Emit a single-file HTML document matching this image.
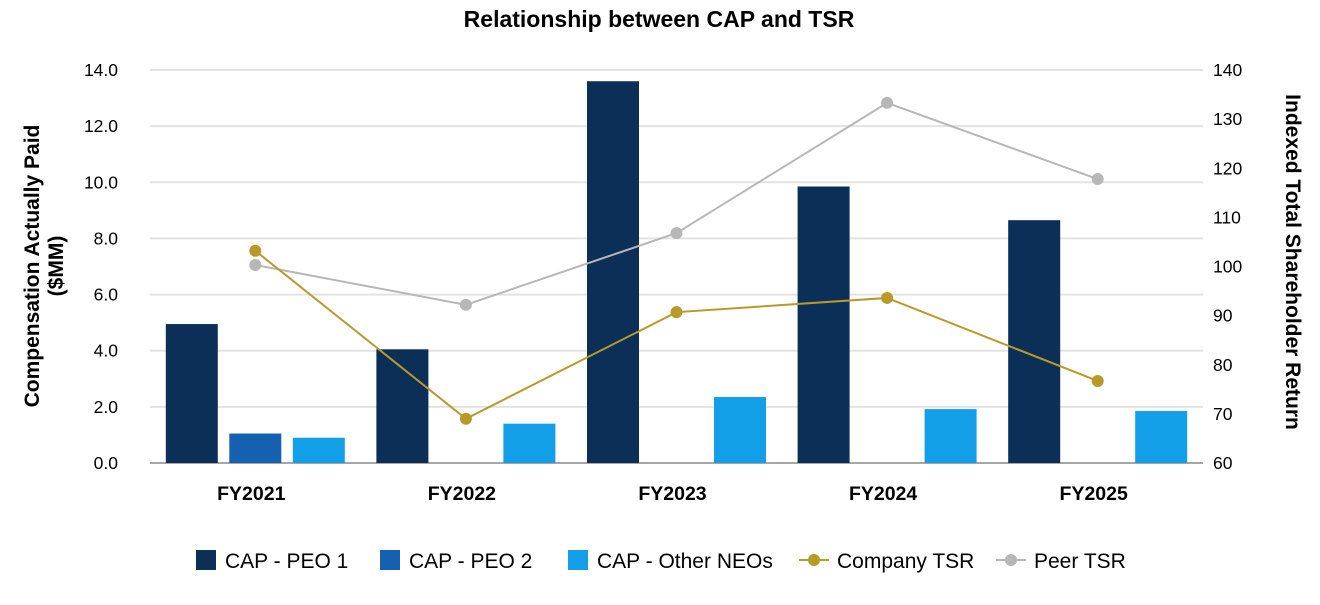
<!DOCTYPE html>
<html><head><meta charset="utf-8"><style>
body{margin:0;background:#fff;width:1320px;height:600px;overflow:hidden;font-family:"Liberation Sans",Arial,sans-serif}
</style></head><body>
<svg id="chart" width="1320" height="600" xmlns="http://www.w3.org/2000/svg" font-family="Liberation Sans, Arial, sans-serif"></svg>
<script>
const categories=["FY2021","FY2022","FY2023","FY2024","FY2025"];
const peo1=[4.95,4.05,13.6,9.85,8.65];
const peo2=[1.05,0,0,0,0];
const otherNeos=[0.9,1.4,2.35,1.92,1.85];
const companyTsr=[103.2,69.0,90.7,93.6,76.7];
const peerTsr=[100.3,92.2,106.8,133.3,117.8];
const leftTicks=[0,2,4,6,8,10,12,14];
const rightTicks=[60,70,80,90,100,110,120,130,140];

const svg=document.getElementById('chart');
const NS="http://www.w3.org/2000/svg";
const X0=150,X1=1203,YT=70,YB=463;
const band=(X1-X0)/categories.length;
const xc=i=>X0+band*(i+0.5);
const yL=v=>YB-(v-0)/(14-0)*(YB-YT);
const yR=v=>YB-(v-60)/(140-60)*(YB-YT);
function mk(tag,attrs,text){const e=document.createElementNS(NS,tag);for(const k in attrs)e.setAttribute(k,attrs[k]);if(text!==undefined)e.textContent=text;svg.appendChild(e);return e;}

let t=mk('text',{x:659,y:27,'text-anchor':'middle','font-size':23,'font-weight':'bold',fill:'#000'},'Relationship between CAP and TSR');



leftTicks.forEach(v=>{
  const g=mk('line',{x1:X0,x2:X1,y1:yL(v),y2:yL(v),stroke:v===0?'#888':'#e3e3e3','stroke-width':v===0?1.5:2});
  
  
  const l=mk('text',{x:118,y:yL(v)+6,'text-anchor':'end','font-size':17.5,fill:'#000'},v.toFixed(1));
  
  
});
rightTicks.forEach(v=>{
  const l=mk('text',{x:1213,y:yR(v)+6,'text-anchor':'start','font-size':17.5,fill:'#000'},String(v));
  
  
});
t=mk('text',{x:0,y:0,'text-anchor':'middle','font-size':21,'font-weight':'bold',fill:'#000',transform:'translate(39,266) rotate(-90)'},'Compensation Actually Paid');


t=mk('text',{x:0,y:0,'text-anchor':'middle','font-size':21,'font-weight':'bold',fill:'#000',transform:'translate(63,266) rotate(-90)'},'($MM)');


t=mk('text',{x:0,y:0,'text-anchor':'middle','font-size':21,'font-weight':'bold',fill:'#000',transform:'translate(1286,262) rotate(90)'},'Indexed Total Shareholder Return');



const bw=52,gap=11.5;
const series=[[peo1,'#0b2f56','bar-peo1'],[peo2,'#1560b0','bar-peo2'],[otherNeos,'#139ee8','bar-other-neos']];
categories.forEach((c,i)=>{
  series.forEach((s,j)=>{
    const v=s[0][i];if(v<=0)return;
    const x=xc(i)+(j-1)*(bw+gap)-bw/2;
    const r=mk('rect',{x:x,y:yL(v),width:bw,height:yL(0)-yL(v),fill:s[1]});
    
    
  });
  const l=mk('text',{x:xc(i)-4,y:500,'text-anchor':'middle','font-size':19.5,'font-weight':'bold',fill:'#000'},c);
  
  
});
function line(data,color,name){
  const p=mk('polyline',{points:data.map((v,i)=>xc(i)+','+yR(v)).join(' '),fill:'none',stroke:color,'stroke-width':2});
  
  
  data.forEach((v,i)=>{
    const c=mk('circle',{cx:xc(i),cy:yR(v),r:6,fill:color});
    
    
  });
}
line(peerTsr,'#b7b7b7','peer-tsr');
line(companyTsr,'#b8992a','company-tsr');

const leg=[['rect','#0b2f56','CAP - PEO 1',196],['rect','#1560b0','CAP - PEO 2',380],['rect','#139ee8','CAP - Other NEOs',568],['line','#b8992a','Company TSR',799],['line','#b7b7b7','Peer TSR',996]];
leg.forEach(l=>{
  if(l[0]==='rect'){const r=mk('rect',{x:l[3],y:550,width:20,height:20,fill:l[1]});
    
    
  }else{const a=mk('line',{x1:l[3],x2:l[3]+30,y1:560,y2:560,stroke:l[1],'stroke-width':2});
    
    
    const b=mk('circle',{cx:l[3]+15,cy:560,r:6,fill:l[1]});
    
    }
  const tx=mk('text',{x:l[3]+(l[0]==='rect'?29:38),y:568,'font-size':21,fill:'#000'},l[2]);
  
  
});
</script>
</body></html>
